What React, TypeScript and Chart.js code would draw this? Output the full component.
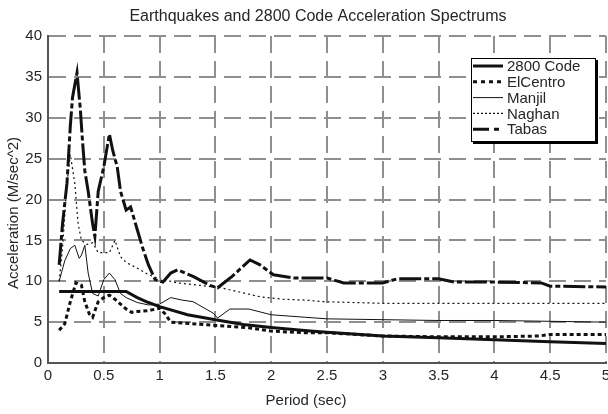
import { useEffect, useRef } from "react";
import { Chart, registerables } from "chart.js";

Chart.register(...registerables);

const TITLE = "Earthquakes and 2800 Code Acceleration Spectrums";
const X_TITLE = "Period (sec)";
const Y_TITLE = "Acceleration (M/sec^2)";
const SERIES_NAMES = ["2800 Code", "ElCentro", "Manjil", "Naghan", "Tabas"];

const X_MIN = 0;
const X_MAX = 5;
const X_STEP = 0.5;
const Y_MIN = 0;
const Y_MAX = 40;
const Y_STEP = 5;

// 2800 Code design spectrum
const codePeriod = [0.1, 0.7, 0.8, 0.9, 1.0, 1.25, 1.5, 1.75, 2.0, 2.35, 2.5, 3.0, 3.5, 4.0, 4.5, 5.0];
const codeAccel = [8.75, 8.75, 8.0, 7.4, 6.9, 5.9, 5.3, 4.7, 4.35, 3.9, 3.75, 3.3, 3.1, 2.85, 2.6, 2.4];

// ElCentro
const elcPeriod = [0.1, 0.15, 0.2, 0.25, 0.3, 0.33, 0.37, 0.4, 0.45, 0.5, 0.55, 0.6, 0.65, 0.7, 0.75, 0.8, 0.9, 1.0, 1.05, 1.1, 1.2, 1.5, 1.8, 2.0, 2.3, 2.5, 3.0, 3.5, 4.0, 4.4, 4.5, 5.0];
const elcAccel = [4.0, 4.8, 7.5, 9.8, 9.5, 7.5, 6.0, 5.6, 7.5, 8.0, 8.3, 7.8, 7.2, 6.6, 6.2, 6.3, 6.4, 6.7, 6.0, 5.0, 4.9, 4.6, 4.3, 3.9, 3.7, 3.7, 3.3, 3.2, 3.2, 3.3, 3.5, 3.5];

// Manjil
const manPeriod = [0.1, 0.15, 0.2, 0.24, 0.28, 0.3, 0.33, 0.36, 0.4, 0.45, 0.5, 0.55, 0.6, 0.65, 0.7, 0.8, 0.9, 1.0, 1.1, 1.2, 1.3, 1.48, 1.52, 1.63, 1.8, 2.0, 2.3, 2.5, 3.0, 3.5, 4.0, 4.5, 5.0];
const manAccel = [10.0, 12.5, 14.0, 14.4, 12.8, 13.2, 14.4, 11.0, 8.5, 8.2, 10.2, 11.0, 10.2, 8.5, 8.0, 7.4, 7.1, 7.2, 8.0, 7.7, 7.5, 6.1, 5.5, 6.6, 6.6, 5.9, 5.6, 5.4, 5.3, 5.2, 5.2, 5.1, 5.0];

// Naghan
const nagPeriod = [0.1, 0.13, 0.17, 0.2, 0.24, 0.27, 0.3, 0.35, 0.4, 0.45, 0.55, 0.6, 0.65, 0.7, 0.8, 0.9, 1.0, 1.16, 1.36, 1.55, 1.9, 2.1, 2.3, 2.47, 3.0, 3.5, 4.0, 4.5, 5.0];
const nagAccel = [10.0, 14.0, 22.0, 25.5, 22.0, 17.0, 15.0, 14.5, 14.7, 13.5, 13.5, 15.0, 13.0, 12.3, 11.6, 10.8, 10.3, 9.8, 9.5, 9.2, 8.1, 7.8, 7.7, 7.5, 7.3, 7.3, 7.3, 7.3, 7.3];

// Tabas
const tabPeriod = [0.1, 0.13, 0.17, 0.2, 0.22, 0.26, 0.29, 0.31, 0.33, 0.36, 0.4, 0.42, 0.45, 0.5, 0.55, 0.58, 0.62, 0.65, 0.7, 0.74, 0.8, 0.85, 0.9, 0.96, 1.03, 1.1, 1.16, 1.3, 1.45, 1.52, 1.65, 1.81, 1.9, 2.02, 2.2, 2.5, 2.65, 3.0, 3.13, 3.5, 3.64, 4.0, 4.42, 4.5, 5.0];
const tabAccel = [12.0, 17.0, 22.0, 29.0, 32.5, 35.5, 31.0, 27.0, 23.5, 21.0, 17.0, 15.5, 21.0, 24.0, 28.0, 26.0, 24.0, 21.0, 18.7, 19.1, 16.3, 14.0, 12.0, 10.2, 9.9, 11.0, 11.4, 10.6, 9.5, 9.2, 10.6, 12.6, 12.0, 10.8, 10.4, 10.4, 9.8, 9.8, 10.3, 10.3, 9.9, 9.9, 9.8, 9.4, 9.3];

const FONT = "'Liberation Sans', Arial, sans-serif";
const TEXT_COLOR = "#262626";

function toPoints(xs: number[], ys: number[]) {
  return xs.map((x, i) => ({ x, y: ys[i] }));
}

const STYLES = [
  { width: 3, dash: [] as number[], legendDash: [] as number[] },
  { width: 3, dash: [4, 3], legendDash: [4, 4] },
  { width: 1, dash: [] as number[], legendDash: [] as number[] },
  { width: 1.2, dash: [2, 3], legendDash: [2, 2] },
  { width: 3, dash: [22, 3, 5, 3], legendDash: [16, 5, 5, 5] },
];

const overlayPlugin = {
  id: "overlay",
  afterDraw(chart: any) {
    const ctx = chart.ctx as CanvasRenderingContext2D;
    ctx.save();
    ctx.fillStyle = TEXT_COLOR;
    ctx.font = `16px ${FONT}`;
    ctx.textAlign = "center";
    ctx.textBaseline = "middle";
    ctx.fillText(TITLE, 318, 17);
    ctx.font = `15px ${FONT}`;
    ctx.fillText(X_TITLE, 306, 401);
    ctx.save();
    ctx.translate(14, 213);
    ctx.rotate(-Math.PI / 2);
    ctx.fillText(Y_TITLE, 0, 0);
    ctx.restore();

    const bx = 471, by = 58, bw = 125, bh = 84;
    ctx.fillStyle = "#000";
    ctx.fillRect(bx + 2, by + 2, bw, bh);
    ctx.fillStyle = "#fff";
    ctx.fillRect(bx, by, bw, bh);
    ctx.strokeStyle = "#000";
    ctx.lineWidth = 1;
    ctx.strokeRect(bx + 0.5, by + 0.5, bw - 1, bh - 1);
    SERIES_NAMES.forEach((name, i) => {
      const y = 66 + i * 15.8;
      const st = STYLES[i];
      ctx.beginPath();
      ctx.setLineDash(st.legendDash);
      ctx.lineWidth = st.width;
      ctx.strokeStyle = "#111";
      ctx.moveTo(473, y);
      ctx.lineTo(503, y);
      ctx.stroke();
      ctx.setLineDash([]);
      ctx.fillStyle = TEXT_COLOR;
      ctx.font = `15px ${FONT}`;
      ctx.textAlign = "left";
      ctx.textBaseline = "middle";
      ctx.fillText(name, 507, y + 1);
    });
    ctx.restore();
  },
};

export default function App() {
  const ref = useRef<HTMLCanvasElement | null>(null);

  useEffect(() => {
    if (!ref.current) return;
    const series = [
      toPoints(codePeriod, codeAccel),
      toPoints(elcPeriod, elcAccel),
      toPoints(manPeriod, manAccel),
      toPoints(nagPeriod, nagAccel),
      toPoints(tabPeriod, tabAccel),
    ];
    const chart = new Chart(ref.current, {
      type: "line",
      data: {
        datasets: series.map((data, i) => ({
          label: SERIES_NAMES[i],
          data,
          borderColor: "#111",
          borderWidth: STYLES[i].width,
          borderDash: STYLES[i].dash,
          pointRadius: 0,
          tension: 0,
          fill: false,
        })),
      },
      options: {
        animation: false,
        responsive: false,
        maintainAspectRatio: false,
        layout: { padding: { top: 36, right: 2, left: 0, bottom: 0 } },
        plugins: {
          legend: { display: false },
          title: { display: false },
          tooltip: { enabled: false },
        },
        scales: {
          x: {
            type: "linear",
            min: X_MIN,
            max: X_MAX,
            ticks: {
              stepSize: X_STEP,
              color: TEXT_COLOR,
              font: { family: FONT, size: 15 },
              padding: 4,
              maxRotation: 0,
              callback: (v: any) => String(Number(v)),
            },
            grid: { color: "#8f8f8f", lineWidth: 2, drawTicks: false },
            border: { display: true, color: "#555", width: 2, dash: [17, 8] },
            afterFit(scale: any) {
              scale.height = 51;
              scale.paddingRight = 0;
              scale.paddingLeft = 0;
            },
          },
          y: {
            type: "linear",
            min: Y_MIN,
            max: Y_MAX,
            ticks: {
              stepSize: Y_STEP,
              color: TEXT_COLOR,
              font: { family: FONT, size: 15 },
              padding: 6,
              callback: (v: any) => String(Number(v)),
            },
            grid: { color: "#8f8f8f", lineWidth: 2, drawTicks: false },
            border: { display: true, color: "#555", width: 2, dash: [17, 8] },
            afterFit(scale: any) {
              scale.width = 48;
              scale.paddingTop = 0;
              scale.paddingBottom = 0;
            },
          },
        },
      },
      plugins: [overlayPlugin],
    });
    return () => chart.destroy();
  }, []);

  return (
    <div style={{ position: "absolute", left: 0, top: 0, width: 608, height: 414, background: "#fff" }}>
      <canvas ref={ref} width={608} height={414} style={{ width: 608, height: 414, display: "block" }} />
    </div>
  );
}
